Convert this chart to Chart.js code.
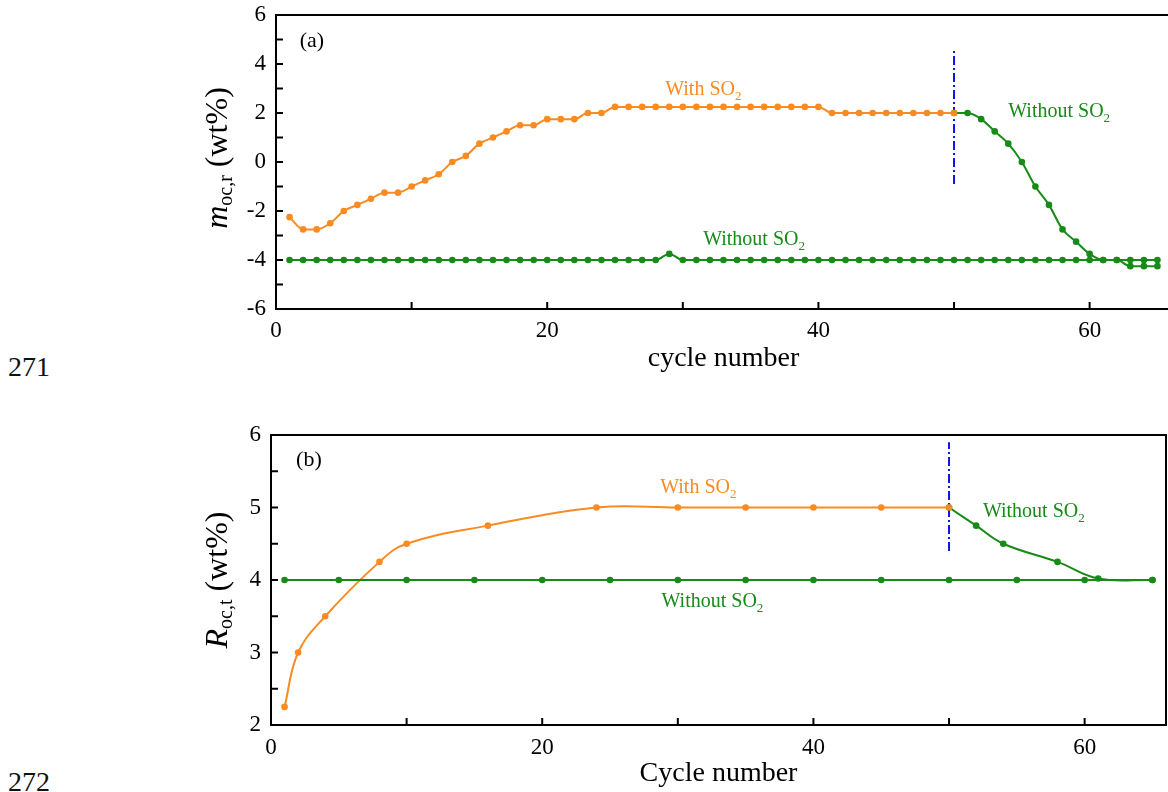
<!DOCTYPE html>
<html lang="en">

<head>
    <meta charset="UTF-8">
    <title>cycle number charts</title>
    <script src="https://cdn.jsdelivr.net/npm/chart.js@4/dist/chart.umd.min.js"></script>
    <style>
        html, body {
            margin: 0;
            padding: 0;
            background: #fff;
            overflow: hidden;
            width: 1168px;
            height: 792px;
        }
        .panel {
            position: absolute;
            left: 0;
        }
        .lineno {
            position: absolute;
            left: 8px;
            font-family: 'Liberation Serif', 'Times New Roman', serif;
            font-size: 28px;
            line-height: 28px;
            color: #111;
        }
    </style>
</head>

<body>
    <div class="lineno" style="top: 353px;">271</div>
    <div class="lineno" style="top: 768px;">272</div>
    <div class="panel" style="top: 0;"><canvas id="chartA" width="1180" height="395"></canvas></div>
    <div class="panel" style="top: 395px;"><canvas id="chartB" width="1180" height="397"></canvas></div>
    <script>
        // ---- panel (a) data ----
        const cyclesWithA = [1, 2, 3, 4, 5, 6, 7, 8, 9, 10, 11, 12, 13, 14, 15, 16, 17, 18, 19, 20, 21, 22, 23, 24, 25,
            26, 27, 28, 29, 30, 31, 32, 33, 34, 35, 36, 37, 38, 39, 40, 41, 42, 43, 44, 45, 46, 47, 48, 49, 50];
        const withSO2A = [-2.25, -2.75, -2.75, -2.5, -2.0, -1.75, -1.5, -1.25, -1.25, -1.0, -0.75, -0.5, 0, 0.25, 0.75,
            1.0, 1.25, 1.5, 1.5, 1.75, 1.75, 1.75, 2.0, 2.0, 2.25,
            2.25, 2.25, 2.25, 2.25, 2.25, 2.25, 2.25, 2.25, 2.25, 2.25, 2.25, 2.25, 2.25, 2.25, 2.25,
            2.0, 2.0, 2.0, 2.0, 2.0, 2.0, 2.0, 2.0, 2.0, 2.0];
        const cyclesWithoutA = [1, 2, 3, 4, 5, 6, 7, 8, 9, 10, 11, 12, 13, 14, 15, 16, 17, 18, 19, 20, 21, 22, 23, 24, 25,
            26, 27, 28, 29, 30, 31, 32, 33, 34, 35, 36, 37, 38, 39, 40, 41, 42, 43, 44, 45, 46, 47, 48, 49, 50,
            51, 52, 53, 54, 55, 56, 57, 58, 59, 60, 61, 62, 63, 64, 65];
        const withoutSO2A = [-4, -4, -4, -4, -4, -4, -4, -4, -4, -4, -4, -4, -4, -4, -4, -4, -4, -4, -4, -4, -4, -4, -4, -4, -4,
            -4, -4, -4, -3.75, -4, -4, -4, -4, -4, -4, -4, -4, -4, -4, -4, -4, -4, -4, -4, -4, -4, -4, -4, -4, -4,
            -4, -4, -4, -4, -4, -4, -4, -4, -4, -4, -4, -4, -4, -4, -4];
        const cyclesSwitchA = [50, 51, 52, 53, 54, 55, 56, 57, 58, 59, 60, 61, 62, 63, 64, 65];
        const switchSO2A = [2.0, 2.0, 1.75, 1.25, 0.75, 0, -1.0, -1.75, -2.75, -3.25, -3.75, -4.0, -4.0, -4.25, -4.25, -4.25];
        const markerA = [-0.9, 4.55];
        const yLabelsA = [-6, -4, -2, 0, 2, 4, 6];
        const yMinorA = [-6, -5, -4, -3, -2, -1, 0, 1, 2, 3, 4, 5, 6];

        // ---- panel (b) data ----
        const cyclesWithB = [1, 2, 4, 8, 10, 16, 24, 30, 35, 40, 45, 50];
        const withSO2B = [2.25, 3.0, 3.5, 4.25, 4.5, 4.75, 5.0, 5.0, 5.0, 5.0, 5.0, 5.0];
        const cyclesWithoutB = [1, 5, 10, 15, 20, 25, 30, 35, 40, 45, 50, 55, 60, 65];
        const withoutSO2B = [4, 4, 4, 4, 4, 4, 4, 4, 4, 4, 4, 4, 4, 4];
        const cyclesSwitchB = [50, 52, 54, 58, 61, 65];
        const switchSO2B = [5.0, 4.75, 4.5, 4.25, 4.02, 4.0];
        const markerB = [4.4, 5.9];
        const yLabelsB = [2, 3, 4, 5, 6];
        const yMinorB = [2, 2.5, 3, 3.5, 4, 4.5, 5, 5.5, 6];

        const xLabels = [0, 20, 40, 60];
        const xMinor = [0, 10, 20, 30, 40, 50, 60];
        const switchCycle = 50;

        const ORANGE = '#f98b22';
        const GREEN = '#178a17';
        const BLUE = '#1010f0';
        const SERIF = "'Liberation Serif', 'Times New Roman', serif";

        function pts(xs, ys) {
            return xs.map((x, i) => ({ x: x, y: ys[i] }));
        }

        // smooth: 'monotone' for the dense cycle data, a plain tension curve for the fitted panel (b)
        function series(data, color, smooth) {
            const ds = {
                data: data,
                borderColor: color,
                backgroundColor: color,
                borderWidth: 2,
                pointRadius: 3.3,
                pointBorderWidth: 0
            };
            if (smooth === 'monotone') {
                ds.cubicInterpolationMode = 'monotone';
            } else {
                ds.tension = 0.4;
            }
            return ds;
        }

        function marker(ys) {
            return {
                data: pts([switchCycle, switchCycle], ys),
                borderColor: BLUE,
                borderWidth: 2,
                borderDash: [9, 3, 2, 3],
                pointRadius: 0
            };
        }

        // text with a subscript, left aligned at (x, baseline)
        function drawSub(ctx, x, y, main, sub, size, subSize, shift, italic) {
            ctx.font = (italic ? 'italic ' : '') + size + 'px ' + SERIF;
            ctx.fillText(main, x, y);
            let w = ctx.measureText(main).width;
            if (sub) {
                ctx.font = subSize + 'px ' + SERIF;
                ctx.fillText(sub, x + w, y + shift);
                w += ctx.measureText(sub).width;
            }
            return w;
        }

        function framePlugin(o) {
            return {
                id: 'frame',
                afterDraw(chart) {
                    const { ctx, chartArea: a, scales: { x, y } } = chart;
                    ctx.save();
                    ctx.strokeStyle = '#000';
                    ctx.lineWidth = 2;
                    ctx.strokeRect(a.left, a.top, a.right - a.left, a.bottom - a.top);
                    ctx.beginPath();
                    o.yMinor.forEach(v => {
                        const py = y.getPixelForValue(v);
                        ctx.moveTo(a.left, py);
                        ctx.lineTo(a.left + 7, py);
                    });
                    xMinor.forEach(v => {
                        const px = x.getPixelForValue(v);
                        ctx.moveTo(px, a.bottom);
                        ctx.lineTo(px, a.bottom - 7);
                    });
                    ctx.stroke();

                    // rotated y title: italic symbol, subscript, unit
                    ctx.fillStyle = '#000';
                    ctx.textBaseline = 'alphabetic';
                    ctx.textAlign = 'left';
                    ctx.font = 'italic 32px ' + SERIF;
                    const w1 = ctx.measureText(o.symbol).width;
                    ctx.font = '20px ' + SERIF;
                    const w2 = ctx.measureText(o.sub).width;
                    ctx.font = '32px ' + SERIF;
                    const w3 = ctx.measureText(' (wt%)').width;
                    const total = w1 + w2 + w3;
                    ctx.save();
                    ctx.translate(o.titleX, (a.top + a.bottom) / 2 + o.titleShift);
                    ctx.rotate(-Math.PI / 2);
                    let cx = -total / 2;
                    cx += drawSub(ctx, cx, 0, o.symbol, o.sub, 32, 20, 5, true);
                    ctx.font = '32px ' + SERIF;
                    ctx.fillText(' (wt%)', cx, 0);
                    ctx.restore();

                    // in-plot notes
                    o.notes.forEach(n => {
                        ctx.fillStyle = n.color;
                        drawSub(ctx, x.getPixelForValue(n.x), y.getPixelForValue(n.y), n.text, n.sub, n.size, 13, 5, false);
                    });
                    ctx.restore();
                }
            };
        }

        function makeOptions(xTitle, yMin, yMax, yLabels, yWidth, xHeight, pad, titlePad, labelPad) {
            return {
                responsive: false,
                animation: false,
                layout: { padding: pad },
                plugins: { legend: { display: false }, tooltip: { enabled: false } },
                scales: {
                    x: {
                        type: 'linear',
                        min: 0,
                        max: 66,
                        grid: { display: false, drawTicks: false },
                        border: { display: false },
                        afterBuildTicks: s => { s.ticks = xLabels.map(v => ({ value: v })); },
                        afterFit: s => {
                            s.height = xHeight;
                            s.paddingLeft = 0;
                            s.paddingRight = 0;
                        },
                        ticks: {
                            padding: labelPad,
                            color: '#000',
                            maxRotation: 0,
                            font: { family: SERIF, size: 23 }
                        },
                        title: {
                            display: true,
                            text: xTitle,
                            color: '#000',
                            padding: { top: 0, bottom: titlePad },
                            font: { family: SERIF, size: 28 }
                        }
                    },
                    y: {
                        min: yMin,
                        max: yMax,
                        grid: { display: false, drawTicks: false },
                        border: { display: false },
                        afterBuildTicks: s => { s.ticks = yLabels.map(v => ({ value: v })); },
                        afterFit: s => {
                            s.width = yWidth;
                            s.paddingTop = 0;
                            s.paddingBottom = 0;
                        },
                        ticks: {
                            padding: 10,
                            color: '#000',
                            font: { family: SERIF, size: 23 }
                        }
                    }
                }
            };
        }

        new Chart(document.getElementById('chartA'), {
            type: 'line',
            data: {
                datasets: [
                    series(pts(cyclesWithoutA, withoutSO2A), GREEN, 'monotone'),
                    series(pts(cyclesWithA, withSO2A), ORANGE, 'monotone'),
                    series(pts(cyclesSwitchA, switchSO2A), GREEN, 'monotone'),
                    marker(markerA)
                ]
            },
            options: makeOptions('cycle number', -6, 6, yLabelsA, 276, 86,
                { top: 15, right: 9, left: 0, bottom: 0 }, 20, 8),
            plugins: [framePlugin({
                yMinor: yMinorA,
                symbol: 'm',
                sub: 'oc,r',
                titleX: 227,
                titleShift: -4,
                notes: [
                    { x: 1.75, y: 4.7, text: '(a)', sub: '', size: 22, color: '#000' },
                    { x: 28.7, y: 2.73, text: 'With SO', sub: '2', size: 20, color: ORANGE },
                    { x: 54.0, y: 1.84, text: 'Without SO', sub: '2', size: 20, color: GREEN },
                    { x: 31.5, y: -3.39, text: 'Without SO', sub: '2', size: 20, color: GREEN }
                ]
            })]
        });

        new Chart(document.getElementById('chartB'), {
            type: 'line',
            data: {
                datasets: [
                    series(pts(cyclesWithoutB, withoutSO2B), GREEN, 'monotone'),
                    series(pts(cyclesWithB, withSO2B), ORANGE, 'tension'),
                    series(pts(cyclesSwitchB, switchSO2B), GREEN, 'tension'),
                    marker(markerB)
                ]
            },
            options: makeOptions('Cycle number', 2, 6, yLabelsB, 271, 67,
                { top: 40, right: 14, left: 0, bottom: 0 }, 2, 9),
            plugins: [framePlugin({
                yMinor: yMinorB,
                symbol: 'R',
                sub: 'oc,t',
                titleX: 227,
                titleShift: 0,
                notes: [
                    { x: 1.85, y: 5.57, text: '(b)', sub: '', size: 22, color: '#000' },
                    { x: 28.7, y: 5.2, text: 'With SO', sub: '2', size: 20, color: ORANGE },
                    { x: 52.5, y: 4.87, text: 'Without SO', sub: '2', size: 20, color: GREEN },
                    { x: 28.8, y: 3.63, text: 'Without SO', sub: '2', size: 20, color: GREEN }
                ]
            })]
        });
    </script>
</body>

</html>
